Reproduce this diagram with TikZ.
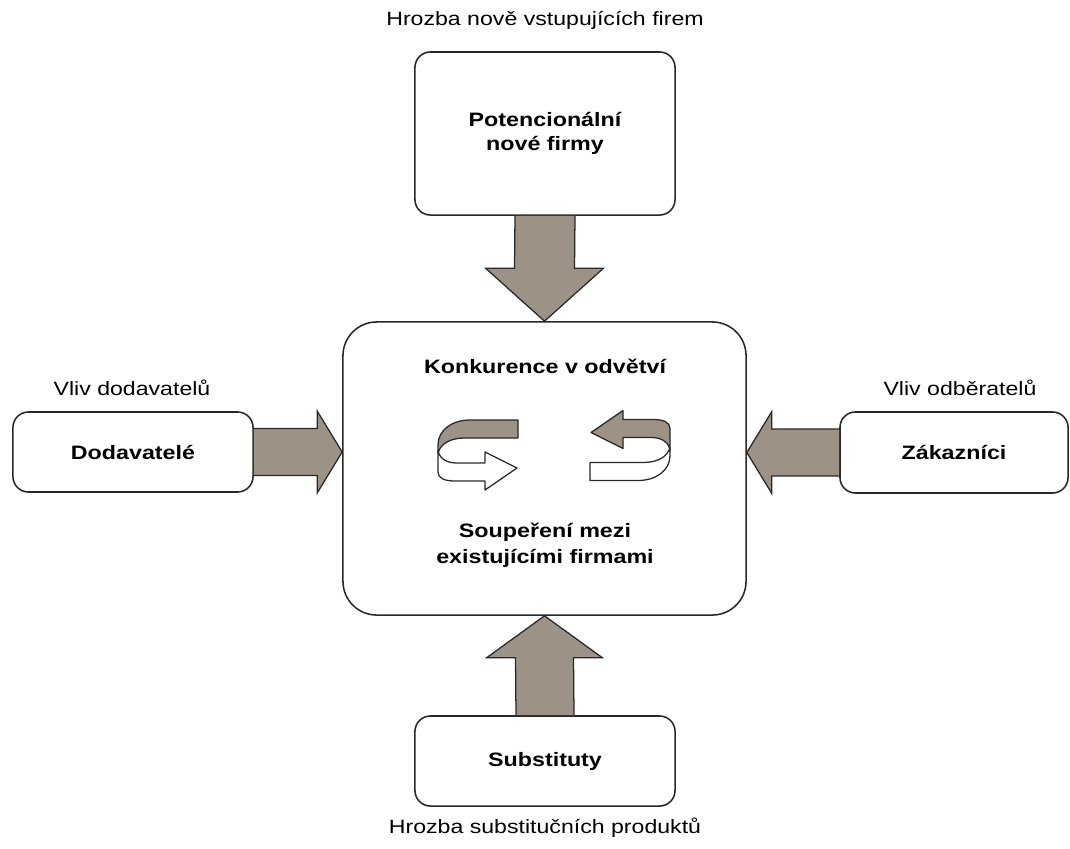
\documentclass[tikz,border=0pt]{standalone}
\usepackage{fontspec}
\setmainfont{Liberation Sans}[FakeStretch=1.2]
\usetikzlibrary{calc}
\definecolor{arrowfill}{RGB}{156,146,134}
\definecolor{ink}{RGB}{40,40,40}
\tikzset{
  box/.style={draw=ink, line width=1.1pt, fill=white, rounded corners=11pt, inner sep=0pt, align=center,
    font=\fontsize{13.8}{17}\selectfont\bfseries},
  corebox/.style={box, rounded corners=24pt},
  lbl/.style={inner sep=0pt, align=center, font=\fontsize{13.7}{16}\selectfont},
  boldlbl/.style={inner sep=0pt, align=center, font=\fontsize{13.8}{18.5}\selectfont\bfseries},
  bigarrow/.style={draw=ink, fill=arrowfill, line width=0.9pt, line join=miter},
  rib/.style={draw=ink, line width=0.9pt, line join=round}
}
\newcommand\ribbonshape[2]{%
  \filldraw[fill=#2, rib] (-39,-4) -- (-39,17) .. controls (-39,23) and (-33,26) .. (-22,26) -- (8,26) -- (8,35) -- (40,13) -- (8,-3) -- (8,8) -- (-20,8) .. controls (-30,8) and (-37,4) .. (-39,-4) -- cycle;
  \filldraw[fill=#1, rib] (41,-35) -- (-7,-35) .. controls (-25,-35) and (-39,-25) .. (-39,-10) -- (-39,-2) .. controls (-36,-12) and (-26,-17) .. (-12,-17) -- (41,-17) -- cycle;
}
\begin{document}
\begin{tikzpicture}[x=0.025cm,y=-0.025cm]
\fill[white] (0,0) rectangle (1070,848);
\path[use as bounding box] (0,0) rectangle (1070,848);

% boxes
\node[box, minimum width=6.5cm, minimum height=4.075cm] (top) at (545,133.5) {Potencionální\\nové firmy};
\node[corebox, minimum width=10.075cm, minimum height=7.325cm] (core) at (544.5,468.5) {};
\node[box, minimum width=6cm, minimum height=2cm] (sup) at (133,452) {Dodavatelé};
\node[box, minimum width=5.7cm, minimum height=2.025cm] (cust) at (954,452.5) {Zákazníci};
\node[box, minimum width=6.5cm, minimum height=2.25cm] (bot) at (545,761) {Substituty};

% labels
\node[lbl] (ltop) at (545,20) {Hrozba nově vstupujících firem};
\node[lbl] (lsup) at (132,388) {Vliv dodavatelů};
\node[lbl] (lcust) at (960,388) {Vliv odběratelů};
\node[lbl] (lbot) at (545,828) {Hrozba substitučních produktů};
\node[boldlbl] (k1) at (545,366) {Konkurence v odvětví};
\node[boldlbl] (k2) at (545,545) {Soupeření mezi\\existujícími firmami};

% big arrows
\draw[bigarrow] ($(top.south)+(-30,0)$) -- ($(core.north)+(-30,-53)$) -- ($(core.north)+(-59,-53)$) -- (core.north) -- ($(core.north)+(59,-53)$) -- ($(core.north)+(30,-53)$) -- ($(top.south)+(30,0)$);
\draw[bigarrow] ($(bot.north)+(-29,0)$) -- ($(core.south)+(-29,42)$) -- ($(core.south)+(-58,42)$) -- (core.south) -- ($(core.south)+(58,42)$) -- ($(core.south)+(29,42)$) -- ($(bot.north)+(29,0)$);
\coordinate (lt) at (core.west |- sup.east);
\draw[bigarrow] ($(sup.east)+(0,-23.5)$) -- ($(lt)+(-25,-23.5)$) -- ($(lt)+(-25,-41)$) -- (lt) -- ($(lt)+(-25,41)$) -- ($(lt)+(-25,23.5)$) -- ($(sup.east)+(0,23.5)$);
\coordinate (rt) at (core.east |- cust.west);
\draw[bigarrow] ($(cust.west)+(0,-23.5)$) -- ($(rt)+(25,-23.5)$) -- ($(rt)+(25,-41)$) -- (rt) -- ($(rt)+(25,41)$) -- ($(rt)+(25,23.5)$) -- ($(cust.west)+(0,23.5)$);

% rotating ribbons
\begin{scope}[shift={(477,455)}]
  \ribbonshape{arrowfill}{white}
\end{scope}
\begin{scope}[shift={(631,445.5)}, rotate=180]
  \ribbonshape{white}{arrowfill}
\end{scope}
\end{tikzpicture}
\end{document}
